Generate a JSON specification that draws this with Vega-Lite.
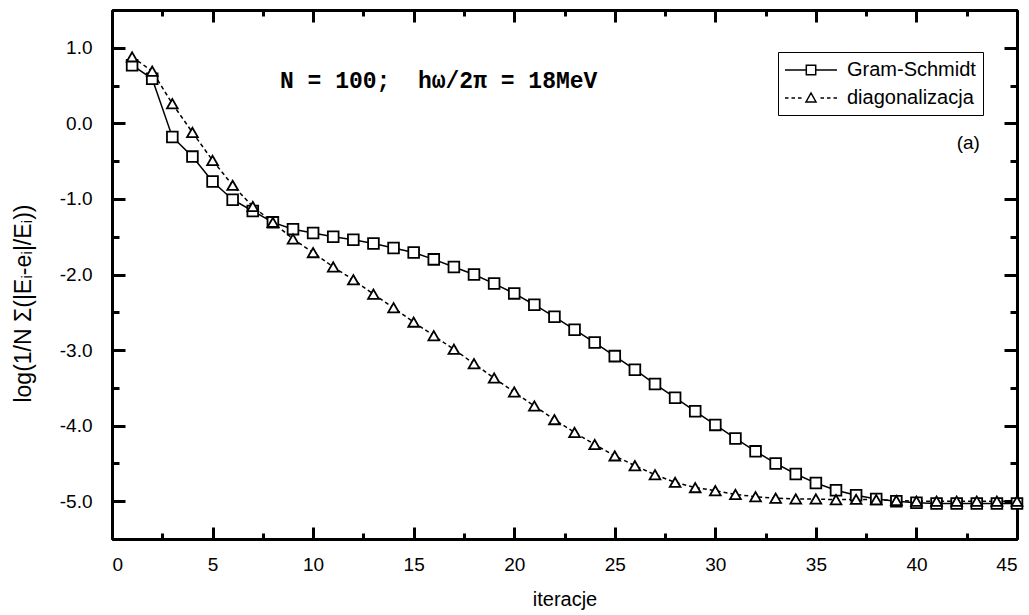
{
  "$schema": "https://vega.github.io/schema/vega-lite/v6.json",
  "width": 905,
  "height": 529,
  "autosize": "none",
  "padding": {"left": 112, "top": 10, "right": 12, "bottom": 76},
  "background": "white",
  "datasets": {
    "series": [
      {"x": 1, "s": "Gram-Schmidt", "v": 0.77},
      {"x": 2, "s": "Gram-Schmidt", "v": 0.59},
      {"x": 3, "s": "Gram-Schmidt", "v": -0.18},
      {"x": 4, "s": "Gram-Schmidt", "v": -0.44},
      {"x": 5, "s": "Gram-Schmidt", "v": -0.77},
      {"x": 6, "s": "Gram-Schmidt", "v": -1.01},
      {"x": 7, "s": "Gram-Schmidt", "v": -1.16},
      {"x": 8, "s": "Gram-Schmidt", "v": -1.31},
      {"x": 9, "s": "Gram-Schmidt", "v": -1.40},
      {"x": 10, "s": "Gram-Schmidt", "v": -1.45},
      {"x": 11, "s": "Gram-Schmidt", "v": -1.50},
      {"x": 12, "s": "Gram-Schmidt", "v": -1.54},
      {"x": 13, "s": "Gram-Schmidt", "v": -1.59},
      {"x": 14, "s": "Gram-Schmidt", "v": -1.65},
      {"x": 15, "s": "Gram-Schmidt", "v": -1.71},
      {"x": 16, "s": "Gram-Schmidt", "v": -1.80},
      {"x": 17, "s": "Gram-Schmidt", "v": -1.90},
      {"x": 18, "s": "Gram-Schmidt", "v": -2.00},
      {"x": 19, "s": "Gram-Schmidt", "v": -2.12},
      {"x": 20, "s": "Gram-Schmidt", "v": -2.25},
      {"x": 21, "s": "Gram-Schmidt", "v": -2.40},
      {"x": 22, "s": "Gram-Schmidt", "v": -2.56},
      {"x": 23, "s": "Gram-Schmidt", "v": -2.73},
      {"x": 24, "s": "Gram-Schmidt", "v": -2.90},
      {"x": 25, "s": "Gram-Schmidt", "v": -3.08},
      {"x": 26, "s": "Gram-Schmidt", "v": -3.26},
      {"x": 27, "s": "Gram-Schmidt", "v": -3.45},
      {"x": 28, "s": "Gram-Schmidt", "v": -3.63},
      {"x": 29, "s": "Gram-Schmidt", "v": -3.81},
      {"x": 30, "s": "Gram-Schmidt", "v": -3.99},
      {"x": 31, "s": "Gram-Schmidt", "v": -4.17},
      {"x": 32, "s": "Gram-Schmidt", "v": -4.34},
      {"x": 33, "s": "Gram-Schmidt", "v": -4.50},
      {"x": 34, "s": "Gram-Schmidt", "v": -4.64},
      {"x": 35, "s": "Gram-Schmidt", "v": -4.76},
      {"x": 36, "s": "Gram-Schmidt", "v": -4.855},
      {"x": 37, "s": "Gram-Schmidt", "v": -4.92},
      {"x": 38, "s": "Gram-Schmidt", "v": -4.97},
      {"x": 39, "s": "Gram-Schmidt", "v": -5.00},
      {"x": 40, "s": "Gram-Schmidt", "v": -5.02},
      {"x": 41, "s": "Gram-Schmidt", "v": -5.03},
      {"x": 42, "s": "Gram-Schmidt", "v": -5.03},
      {"x": 43, "s": "Gram-Schmidt", "v": -5.03},
      {"x": 44, "s": "Gram-Schmidt", "v": -5.03},
      {"x": 45, "s": "Gram-Schmidt", "v": -5.03},
      {"x": 1, "s": "diagonalizacja", "v": 0.88},
      {"x": 2, "s": "diagonalizacja", "v": 0.69},
      {"x": 3, "s": "diagonalizacja", "v": 0.26},
      {"x": 4, "s": "diagonalizacja", "v": -0.12},
      {"x": 5, "s": "diagonalizacja", "v": -0.49},
      {"x": 6, "s": "diagonalizacja", "v": -0.82},
      {"x": 7, "s": "diagonalizacja", "v": -1.10},
      {"x": 8, "s": "diagonalizacja", "v": -1.31},
      {"x": 9, "s": "diagonalizacja", "v": -1.53},
      {"x": 10, "s": "diagonalizacja", "v": -1.71},
      {"x": 11, "s": "diagonalizacja", "v": -1.90},
      {"x": 12, "s": "diagonalizacja", "v": -2.07},
      {"x": 13, "s": "diagonalizacja", "v": -2.26},
      {"x": 14, "s": "diagonalizacja", "v": -2.44},
      {"x": 15, "s": "diagonalizacja", "v": -2.63},
      {"x": 16, "s": "diagonalizacja", "v": -2.81},
      {"x": 17, "s": "diagonalizacja", "v": -2.99},
      {"x": 18, "s": "diagonalizacja", "v": -3.18},
      {"x": 19, "s": "diagonalizacja", "v": -3.37},
      {"x": 20, "s": "diagonalizacja", "v": -3.555},
      {"x": 21, "s": "diagonalizacja", "v": -3.74},
      {"x": 22, "s": "diagonalizacja", "v": -3.92},
      {"x": 23, "s": "diagonalizacja", "v": -4.09},
      {"x": 24, "s": "diagonalizacja", "v": -4.25},
      {"x": 25, "s": "diagonalizacja", "v": -4.40},
      {"x": 26, "s": "diagonalizacja", "v": -4.53},
      {"x": 27, "s": "diagonalizacja", "v": -4.65},
      {"x": 28, "s": "diagonalizacja", "v": -4.75},
      {"x": 29, "s": "diagonalizacja", "v": -4.82},
      {"x": 30, "s": "diagonalizacja", "v": -4.86},
      {"x": 31, "s": "diagonalizacja", "v": -4.91},
      {"x": 32, "s": "diagonalizacja", "v": -4.94},
      {"x": 33, "s": "diagonalizacja", "v": -4.96},
      {"x": 34, "s": "diagonalizacja", "v": -4.97},
      {"x": 35, "s": "diagonalizacja", "v": -4.97},
      {"x": 36, "s": "diagonalizacja", "v": -4.98},
      {"x": 37, "s": "diagonalizacja", "v": -4.975},
      {"x": 38, "s": "diagonalizacja", "v": -4.98},
      {"x": 39, "s": "diagonalizacja", "v": -4.99},
      {"x": 40, "s": "diagonalizacja", "v": -5.00},
      {"x": 41, "s": "diagonalizacja", "v": -5.00},
      {"x": 42, "s": "diagonalizacja", "v": -5.00},
      {"x": 43, "s": "diagonalizacja", "v": -5.00},
      {"x": 44, "s": "diagonalizacja", "v": -5.00},
      {"x": 45, "s": "diagonalizacja", "v": -5.00}
    ],
    "note1": [{"x": 8.35, "v": 0.47, "t": "N = 100;\u00a0 hω/2π = 18MeV"}],
    "note2": [{"x": 42.0, "v": -0.255, "t": "(a)"}]
  },
  "config": {
    "view": {"stroke": null},
    "axis": {
      "domainColor": "black",
      "domainWidth": 3,
      "tickColor": "black",
      "tickWidth": 3,
      "labelColor": "black",
      "labelFont": "Liberation Sans",
      "labelFontSize": 19,
      "titleFont": "Liberation Sans",
      "titleFontSize": 20,
      "titleFontWeight": "normal",
      "titleColor": "black",
      "grid": false
    },
    "legend": {
      "labelFont": "Liberation Sans",
      "labelFontSize": 20,
      "labelColor": "black"
    }
  },
  "resolve": {"axis": {"x": "independent", "y": "independent"}, "scale": {"shape": "independent"}},
  "layer": [
    {
      "data": {"name": "series"},
      "transform": [{"filter": "datum.s === 'Gram-Schmidt'"}],
      "mark": {"type": "line", "color": "black", "strokeWidth": 1.5},
      "encoding": {
        "x": {
          "field": "x", "type": "quantitative",
          "scale": {"domain": [0, 45], "nice": false, "zero": false},
          "axis": {"orient": "bottom", "values": [0, 5, 10, 15, 20, 25, 30, 35, 40, 45], "tickSize": -12, "labelPadding": 28, "title": "iteracje", "titlePadding": 15, "format": "d"}
        },
        "y": {
          "field": "v", "type": "quantitative",
          "scale": {"domain": [-5.5, 1.5], "nice": false, "zero": false},
          "axis": {"orient": "left", "values": [-5, -4, -3, -2, -1, 0, 1], "tickSize": -13, "labelPadding": 33, "labelExpr": "replace(format(datum.value, '.1f'), '\u2212', '-')", "title": "log(1/N Σ(|Eᵢ-eᵢ|/Eᵢ))", "titleFontSize": 23, "titleX": -89, "titleY": 293, "titleBaseline": "middle", "titleAngle": -90}
        }
      }
    },
    {
      "data": {"name": "series"},
      "transform": [{"filter": "datum.s === 'diagonalizacja'"}],
      "mark": {"type": "line", "color": "black", "strokeWidth": 1.5, "strokeDash": [4, 3]},
      "encoding": {
        "x": {"field": "x", "type": "quantitative", "axis": null},
        "y": {"field": "v", "type": "quantitative", "axis": null}
      }
    },
    {
      "data": {"name": "series"},
      "mark": {"type": "point", "filled": true, "fill": "white", "stroke": "black", "strokeWidth": 1.8, "opacity": 1, "size": 115},
      "encoding": {
        "x": {
          "field": "x", "type": "quantitative",
          "axis": {"orient": "bottom", "values": [2.5, 7.5, 12.5, 17.5, 22.5, 27.5, 32.5, 37.5, 42.5], "tickSize": -6, "labels": false, "title": null}
        },
        "y": {
          "field": "v", "type": "quantitative",
          "axis": {"orient": "left", "values": [-5.5, -4.5, -3.5, -2.5, -1.5, -0.5, 0.5, 1.5], "tickSize": -7, "labels": false, "title": null}
        },
        "shape": {
          "field": "s", "type": "nominal",
          "scale": {"domain": ["Gram-Schmidt", "diagonalizacja"], "range": ["square", "triangle-up"]},
          "legend": null
        }
      }
    },
    {
      "data": {"name": "series"},
      "transform": [{"filter": "datum.x < 0"}],
      "mark": {"type": "point", "filled": false, "color": "black", "strokeWidth": 1.5, "opacity": 1, "size": 400},
      "encoding": {
        "x": {"field": "x", "type": "quantitative", "axis": null},
        "y": {"field": "v", "type": "quantitative", "axis": null},
        "shape": {
          "field": "s", "type": "nominal",
          "scale": {
            "domain": ["Gram-Schmidt", "diagonalizacja"],
            "range": [
              "M-2.6,0H-0.47M0.47,0H2.6M-0.47,-0.47H0.47V0.47H-0.47Z",
              "M-2.6,0H-2.25M-1.95,0H-1.6M-1.3,0H-0.95M0.95,0H1.3M1.6,0H1.95M2.25,0H2.6M-0.5,0.4L0.5,0.4L0,-0.5Z"
            ]
          },
          "legend": {
            "title": null,
            "orient": "none",
            "legendX": 666,
            "legendY": 42,
            "padding": 7,
            "rowPadding": 7,
            "strokeColor": "black",
            "fillColor": "white",
            "symbolSize": 400,
            "symbolStrokeColor": "black",
            "symbolStrokeWidth": 1.5,
            "symbolOffset": 15,
            "labelOffset": 25,
            "encode": {
              "legend": {"update": {"strokeWidth": {"value": 1.5}}}
            }
          }
        }
      }
    },
    {
      "data": {"name": "note1"},
      "mark": {"type": "text", "font": "Liberation Mono", "fontWeight": "bold", "fontSize": 23, "align": "left", "baseline": "alphabetic", "color": "black"},
      "encoding": {
        "x": {"field": "x", "type": "quantitative", "axis": {"orient": "top", "values": [0, 5, 10, 15, 20, 25, 30, 35, 40, 45], "tickSize": -12, "labels": false, "title": null}},
        "y": {"field": "v", "type": "quantitative", "axis": {"orient": "right", "values": [-5, -4, -3, -2, -1, 0, 1], "tickSize": -13, "labels": false, "title": null}},
        "text": {"field": "t"}
      }
    },
    {
      "data": {"name": "note2"},
      "mark": {"type": "text", "font": "Liberation Sans", "fontSize": 19, "align": "left", "baseline": "middle", "color": "black"},
      "encoding": {
        "x": {"field": "x", "type": "quantitative", "axis": {"orient": "top", "values": [2.5, 7.5, 12.5, 17.5, 22.5, 27.5, 32.5, 37.5, 42.5], "tickSize": -6, "labels": false, "title": null}},
        "y": {"field": "v", "type": "quantitative", "axis": {"orient": "right", "values": [-5.5, -4.5, -3.5, -2.5, -1.5, -0.5, 0.5, 1.5], "tickSize": -7, "labels": false, "title": null}},
        "text": {"field": "t"}
      }
    }
  ]
}
